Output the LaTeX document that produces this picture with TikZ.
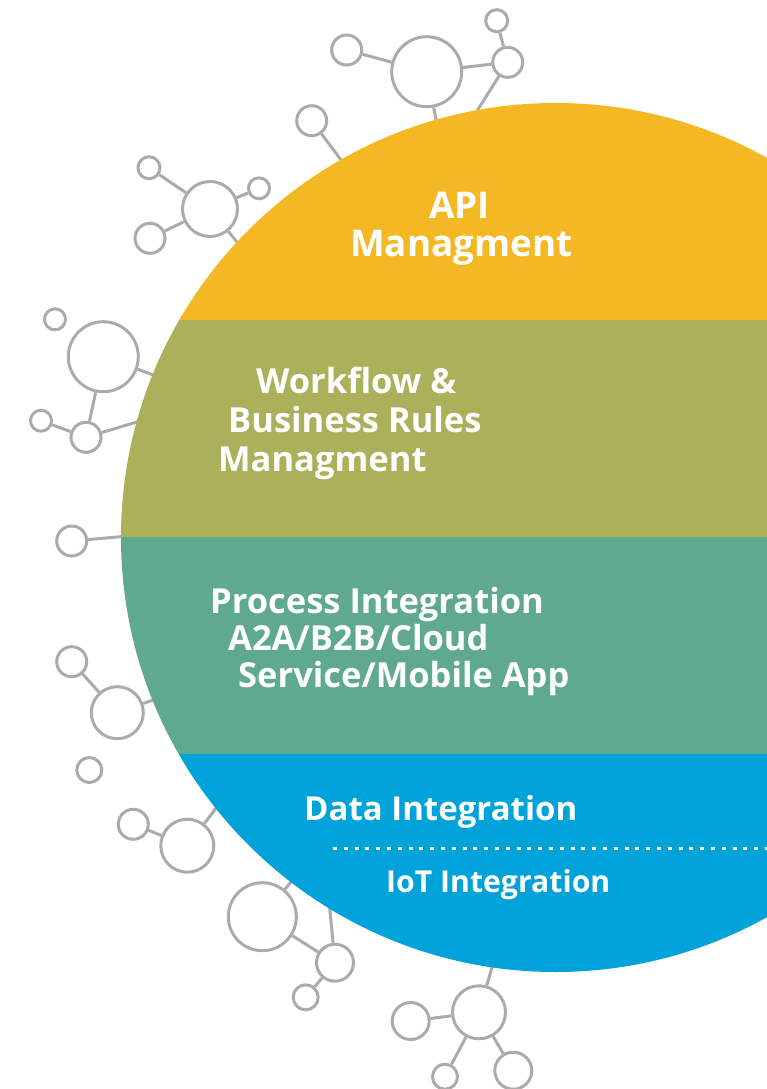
\documentclass[tikz,border=0pt]{standalone}
\usepackage{fontspec}
\setmainfont{Open Sans}
\definecolor{apiyellow}{HTML}{F4B824}
\definecolor{flowolive}{HTML}{ABB15A}
\definecolor{procteal}{HTML}{5FA98F}
\definecolor{datablue}{HTML}{00A2DA}
\definecolor{netgrey}{HTML}{ABABAB}
\tikzset{
  bub/.style={circle,draw=netgrey,line width=3pt,inner sep=0pt,minimum size=#1},
  link/.style={draw=netgrey,line width=3pt},
  layer/.style={anchor=base west,text=white,font=\bfseries\fontsize{#1}{#1}\selectfont,inner sep=0pt}
}
\begin{document}
\begin{tikzpicture}[x=1pt,y=-1pt]
      \useasboundingbox (0,0) rectangle (767,1089);
      \coordinate (O) at (555.5,537.5);
      \node[bub=30] (t1) at (346.7,50) {};
      \node[bub=70] (t2) at (426.7,71.7) {};
      \node[bub=30] (t3) at (507.7,62.3) {};
      \node[bub=22] (t4) at (496.7,20.7) {};
      \node[bub=30] (t5) at (311.7,120.7) {};
      \coordinate (t2in) at (439,135);
      \coordinate (t3in) at (465,130);
      \coordinate (t5in) at (350,172);
      \draw[link] (t1) -- (t2) -- (t3) -- (t4);
      \draw[link] (t2) -- (t2in);
      \draw[link] (t3) -- (t3in);
      \draw[link] (t5) -- (t5in);
      \node[bub=22] (a1) at (149,167.7) {};
      \node[bub=55] (a2) at (210,209) {};
      \node[bub=21] (a3) at (259,188.3) {};
      \node[bub=30] (a4) at (150,238.3) {};
      \coordinate (a2in) at (250,258);
      \draw[link] (a1) -- (a2) -- (a3);
      \draw[link] (a2) -- (a4);
      \draw[link] (a2) -- (a2in);
      \node[bub=21] (b0) at (55,319.3) {};
      \node[bub=70] (b1) at (103.3,356.7) {};
      \node[bub=30] (b2) at (86,437.3) {};
      \node[bub=21] (b3) at (41,420.7) {};
      \coordinate (b1in) at (170,381);
      \coordinate (b2in) at (160,415);
      \draw[link] (b1) -- (b2) -- (b3);
      \draw[link] (b1) -- (b1in);
      \draw[link] (b2) -- (b2in);
      \node[bub=30] (c1) at (71.7,541) {};
      \node[bub=30] (c2) at (71.7,661.7) {};
      \node[bub=52] (c3) at (117.3,712.7) {};
      \node[bub=25] (c4) at (89.3,770) {};
      \coordinate (c1in) at (140,535);
      \coordinate (c3in) at (170,694);
      \draw[link] (c1) -- (c1in);
      \draw[link] (c2) -- (c3) -- (c3in);
      \node[bub=30] (d1) at (133.3,824.3) {};
      \node[bub=53] (d2) at (187.3,845.7) {};
      \coordinate (d2in) at (230,790);
      \draw[link] (d1) -- (d2) -- (d2in);
      \node[bub=68] (e1) at (262.3,916.7) {};
      \node[bub=37] (e2) at (335,962.7) {};
      \node[bub=25] (e3) at (305.7,997.3) {};
      \coordinate (e1in) at (305,865);
      \coordinate (e2in) at (327,880);
      \draw[link] (e1) -- (e2) -- (e3);
      \draw[link] (e1) -- (e1in);
      \draw[link] (e2) -- (e2in);
      \node[bub=53] (f1) at (479,1012.3) {};
      \node[bub=37] (f2) at (410.7,1021) {};
      \node[bub=25] (f3) at (445,1076.7) {};
      \node[bub=37] (f4) at (513.3,1070.7) {};
      \coordinate (f1in) at (497,950);
      \draw[link] (f2) -- (f1) -- (f3);
      \draw[link] (f1) -- (f4);
      \draw[link] (f1) -- (f1in);
      \begin{scope}
        \clip (O) circle (434.5pt);
        \fill[apiyellow] (0,0) rectangle (767,320);
        \fill[flowolive] (0,320) rectangle (767,537);
        \fill[procteal] (0,537) rectangle (767,754);
        \fill[datablue] (0,754) rectangle (767,1089);
        \coordinate (dashL) at (333,848);
        \coordinate (dashR) at (767,848);
        \draw[white,line width=3pt,dash pattern=on 4pt off 6.8pt] (dashL) -- (dashR);
      \end{scope}
      \node[layer=36.8] (api1) at (429,218) {API};
      \node[layer=36.8] (api2) at (350,256) {Managment};
      \node[layer=34.5] (wf1) at (256,393) {Workflow \&};
      \node[layer=34.5] (wf2) at (228,432) {Business Rules};
      \node[layer=34.5] (wf3) at (218,471) {Managment};
      \node[layer=34.5] (pi1) at (210,613) {Process Integration};
      \node[layer=34.5] (pi2) at (228,650) {A2A/B2B/Cloud};
      \node[layer=34.5] (pi3) at (238,687) {Service/Mobile App};
      \node[layer=33] (di) at (304,820) {Data Integration};
      \node[layer=30.2] (iot) at (386,892) {IoT Integration};
    \end{tikzpicture}
\end{document}
